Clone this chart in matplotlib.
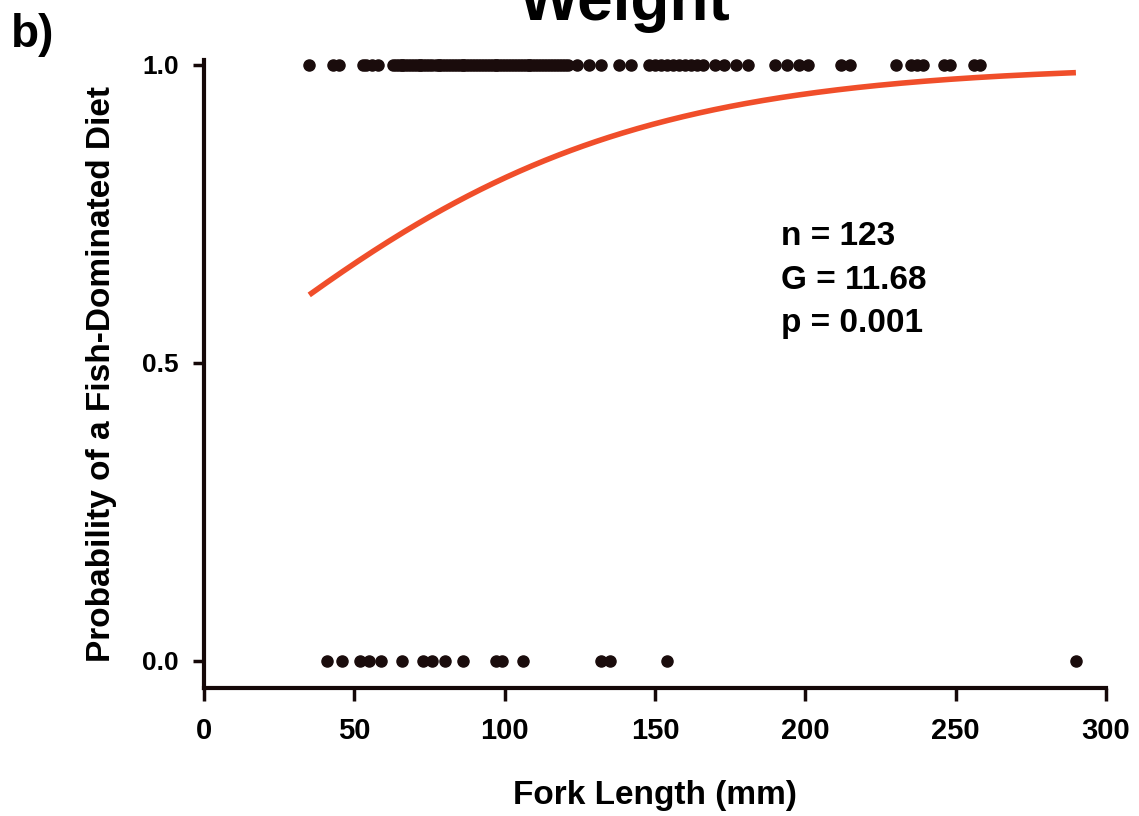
import numpy as np
import matplotlib
matplotlib.use("Agg")
import matplotlib.pyplot as plt

plt.rcParams["font.family"] = ["Liberation Sans", "DejaVu Sans"]
plt.rcParams["font.weight"] = "bold"

# fork lengths (mm) of fish with a fish-dominated diet (y = 1)
fish_diet_lengths = [
    35, 43, 45, 53, 54, 56, 58,
    63, 64, 65, 66, 66, 67, 68, 69, 70, 71, 72, 72, 73, 74, 75, 76, 77, 78,
    78, 79, 80, 81, 82, 83, 84, 85, 86, 86, 87, 88, 89, 90, 91, 92, 93, 94,
    95, 96, 97, 97, 98, 99, 100, 101, 102, 103, 104, 105, 106, 107, 108, 108,
    109, 110, 111, 112, 113, 114, 115, 116, 117, 118, 119, 120, 121,
    124, 128, 132, 138, 142,
    148, 150, 152, 154, 156, 158, 160, 162, 164, 166,
    170, 173, 177, 181, 190, 194, 198, 201, 212, 215,
    230, 235, 237, 239, 246, 248, 256, 258,
]
# fork lengths (mm) of fish with other diets (y = 0)
other_diet_lengths = [41, 46, 52, 55, 59, 66, 73, 76, 80, 86, 97, 99, 106,
                      132, 135, 154, 290]

# logistic regression fit
b0, b1 = -0.067, 0.0152
fit_range = (35, 290)
stats_lines = ["n = 123", "G = 11.68", "p = 0.001"]

fig = plt.figure(figsize=(11.39, 8.16), dpi=100)
ax = fig.add_axes([0.1791, 0.1569, 0.7919, 0.7696])

dot = dict(color="#1a0c0c", marker="o", markersize=8, linestyle="none",
           clip_on=False, zorder=3)
ax.plot(fish_diet_lengths, np.ones(len(fish_diet_lengths)), **dot)
ax.plot(other_diet_lengths, np.zeros(len(other_diet_lengths)), **dot)

xs = np.linspace(fit_range[0], fit_range[1], 300)
ax.plot(xs, 1 / (1 + np.exp(-(b0 + b1 * xs))), color="#f04e2a", lw=4,
        solid_capstyle="butt", zorder=2)

ax.set_xlim(0, 300)
ax.set_ylim(-0.0453, 1.0084)
ax.set_xticks([0, 50, 100, 150, 200, 250, 300])
ax.set_yticks([0.0, 0.5, 1.0])
ax.set_yticklabels(["0.0", "0.5", "1.0"])

for side in ("top", "right"):
    ax.spines[side].set_visible(False)
for side in ("left", "bottom"):
    ax.spines[side].set_linewidth(3)
    ax.spines[side].set_color("#150808")

ax.tick_params(axis="x", length=9, width=2.5, pad=12, labelsize=21,
               color="#150808")
ax.tick_params(axis="y", length=8, width=2.5, pad=10, labelsize=19,
               color="#150808")

ax.set_xlabel("Fork Length (mm)", fontsize=24, fontweight="bold", labelpad=25)
ax.set_ylabel("Probability of a Fish-Dominated Diet", fontsize=24,
              fontweight="bold", labelpad=18)

for i, line in enumerate(stats_lines):
    ax.text(192, 0.712 - i * 0.073, line, fontsize=24, fontweight="bold",
            va="center", ha="left")

fig.text(0.010, 0.957, "b)", fontsize=33, fontweight="bold", va="center")
fig.text(0.549, 0.975, "Weight", fontsize=46, fontweight="bold",
         ha="center", va="baseline")

fig.savefig("out.png", dpi=100)
